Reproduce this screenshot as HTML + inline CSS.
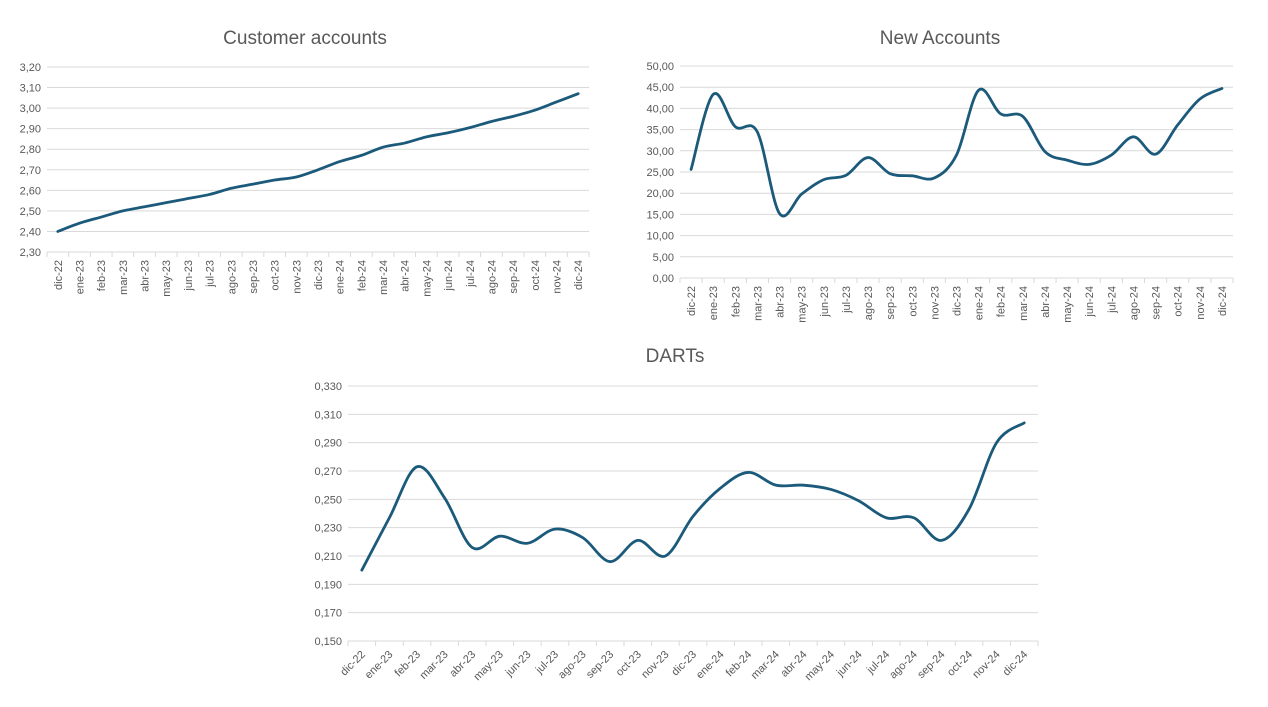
<!DOCTYPE html>
<html><head><meta charset="utf-8"><style>
html,body{margin:0;padding:0;background:#fff;}
svg{display:block;font-family:"Liberation Sans",Arial,sans-serif;}
</style></head><body>
<svg id="s" width="1268" height="707" xmlns="http://www.w3.org/2000/svg">
<text x="305" y="44" font-size="19" fill="#595959" text-anchor="middle">Customer accounts</text>
<text x="940" y="44" font-size="19" fill="#595959" text-anchor="middle">New Accounts</text>
<text x="675" y="362" font-size="19" fill="#595959" text-anchor="middle">DARTs</text>
</svg>
<script>
var S=document.getElementById('s'),NS='http://www.w3.org/2000/svg';
function el(t,a,txt){var e=document.createElementNS(NS,t);for(var k in a)e.setAttribute(k,a[k]);if(txt!==undefined)e.textContent=txt;S.appendChild(e);return e;}
var M=['dic-22','ene-23','feb-23','mar-23','abr-23','may-23','jun-23','jul-23','ago-23','sep-23','oct-23','nov-23','dic-23','ene-24','feb-24','mar-24','abr-24','may-24','jun-24','jul-24','ago-24','sep-24','oct-24','nov-24','dic-24'];
function chart(c){
 var n=c.data.length,w=(c.x1-c.x0)/n;
 for(var i=0;i<=c.steps;i++){var v=c.min+i*(c.max-c.min)/c.steps,y=c.yb-(c.yb-c.yt)*i/c.steps;
  el('line',{x1:c.x0,x2:c.x1,y1:y,y2:y,stroke:'#d9d9d9','stroke-width':1});
  el('text',{x:c.x0-6,y:y+4,'font-size':11,fill:'#595959','text-anchor':'end'},v.toFixed(c.dec).replace('.',','));}
 for(var i=0;i<=n;i++){var x=c.x0+i*w;el('line',{x1:x,x2:x,y1:c.yb,y2:c.yb+5,stroke:'#d9d9d9'});}
 var P=c.data.map(function(v,i){return [c.x0+(i+.5)*w,c.yb-(v-c.min)/(c.max-c.min)*(c.yb-c.yt)];});
 var d='M'+P[0][0]+','+P[0][1];
 for(var i=0;i<n-1;i++){var p0=P[Math.max(0,i-1)],p1=P[i],p2=P[i+1],p3=P[Math.min(n-1,i+2)],t=6;
  d+=' C'+(p1[0]+(p2[0]-p0[0])/t)+','+(p1[1]+(p2[1]-p0[1])/t)+' '+(p2[0]-(p3[0]-p1[0])/t)+','+(p2[1]-(p3[1]-p1[1])/t)+' '+p2[0]+','+p2[1];}
 el('path',{d:d,fill:'none',stroke:'#1b5a7a','stroke-width':2.8,'stroke-linecap':'round'});
 P.forEach(function(p,i){
  if(c.rot==90) el('text',{x:p[0]+4,y:c.yb+8,'font-size':11,fill:'#595959','text-anchor':'end',transform:'rotate(-90 '+(p[0]+4)+' '+(c.yb+8)+')'},M[i]);
  else el('text',{x:p[0]+4,y:c.yb+14,'font-size':11,fill:'#595959','text-anchor':'end',transform:'rotate(-45 '+(p[0]+4)+' '+(c.yb+14)+')'},M[i]);
 });
}
chart({x0:47,x1:589,yt:67,yb:252,min:2.3,max:3.2,steps:9,dec:2,rot:90,
 data:[2.40,2.44,2.47,2.50,2.52,2.54,2.56,2.58,2.61,2.63,2.65,2.665,2.70,2.74,2.77,2.81,2.83,2.86,2.88,2.905,2.935,2.96,2.99,3.03,3.07]});
chart({x0:680,x1:1233,yt:66,yb:278,min:0,max:50,steps:10,dec:2,rot:90,
 data:[25.6,43.3,35.7,34.4,15.2,19.8,23.2,24.2,28.4,24.6,24.1,23.6,29,44.3,38.7,38.1,29.8,27.8,26.8,29,33.3,29.2,36.1,42.2,44.7]});
chart({x0:348,x1:1038,yt:386,yb:641,min:0.15,max:0.33,steps:9,dec:3,rot:45,
 data:[0.200,0.237,0.273,0.251,0.216,0.224,0.219,0.229,0.223,0.206,0.221,0.210,0.238,0.258,0.269,0.260,0.260,0.257,0.249,0.237,0.237,0.221,0.243,0.290,0.304]});
</script>
</body></html>
